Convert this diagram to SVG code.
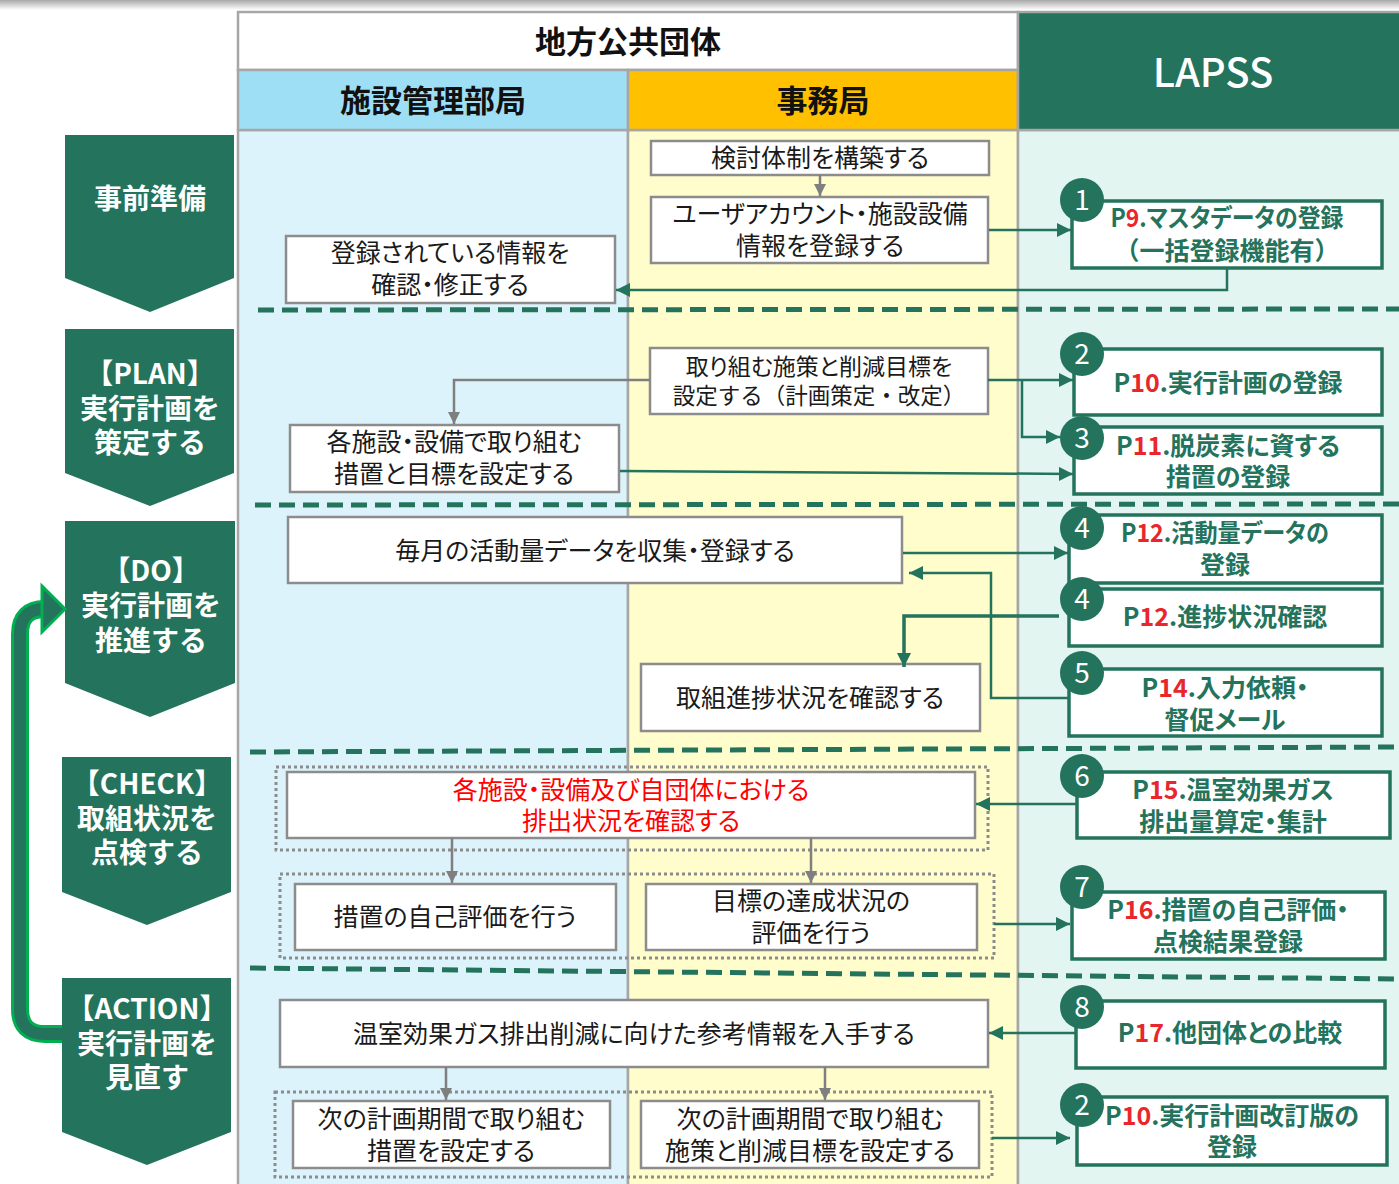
<svg xmlns="http://www.w3.org/2000/svg" width="1399" height="1184" viewBox="0 0 1399 1184">
<defs>
<linearGradient id="topband" x1="0" y1="0" x2="0" y2="1">
<stop offset="0" stop-color="#a8a8a8"/>
<stop offset="1" stop-color="#ffffff"/>
</linearGradient>
<marker id="ag" markerUnits="userSpaceOnUse" markerWidth="15" markerHeight="14" refX="14" refY="7" orient="auto">
<path d="M0,0 L14,7 L0,14 z" fill="#24735c"/>
</marker>
<marker id="ay" markerUnits="userSpaceOnUse" markerWidth="13" markerHeight="12" refX="12" refY="6" orient="auto">
<path d="M0,0 L12,6 L0,12 z" fill="#7f7f7f"/>
</marker>
<style>
.box{fill:#fff;stroke:#8c8c8c;stroke-width:2.5}
.lbox{fill:#fff;stroke:#24735c;stroke-width:3.5}
.dot{fill:none;stroke:#8c8c8c;stroke-width:3;stroke-dasharray:3 3}
.dash{stroke:#24735c;stroke-width:5;stroke-dasharray:16 8;fill:none}
.t{font-family:"Noto Sans CJK JP","Noto Sans",sans-serif;font-size:25px;fill:#1a1a1a;text-anchor:middle;font-feature-settings:"palt"}
.t23{font-size:23px}
.np{font-feature-settings:normal;font-size:22.5px}
.red{fill:#ff0000}
.lt{font-family:"Noto Sans CJK JP","Noto Sans",sans-serif;font-size:25px;font-weight:bold;fill:#24735c;text-anchor:middle;font-feature-settings:"palt"}
.ltn{font-feature-settings:normal}
.r{fill:#e8262b}
.ph{fill:#24735c}
.pt{font-family:"Noto Sans CJK JP","Noto Sans",sans-serif;font-size:28px;font-weight:bold;fill:#fff;text-anchor:middle}
.hd{font-family:"Noto Sans CJK JP","Noto Sans",sans-serif;font-size:31px;font-weight:bold;fill:#111;text-anchor:middle}
.num{fill:#24735c}
.nt{font-family:"Noto Sans CJK JP","Noto Sans",sans-serif;font-size:28px;fill:#fff;text-anchor:middle}
.cg{fill:none;stroke:#24735c;stroke-width:2.5}
.cy{fill:none;stroke:#7f7f7f;stroke-width:2.5}
</style>
</defs>
<rect x="0" y="0" width="1399" height="1184" fill="#ffffff"/>
<rect x="0" y="0" width="1399" height="10" fill="url(#topband)"/>

<!-- columns -->
<g id="columns">
<rect x="238" y="130" width="390" height="1060" fill="#dcf3fb" stroke="#a6a6a6" stroke-width="2.5"/>
<rect x="628" y="130" width="390" height="1060" fill="#fffdcc" stroke="#a6a6a6" stroke-width="2.5"/>
<rect x="1018" y="130" width="385" height="1060" fill="#e2f5f0" stroke="#a6a6a6" stroke-width="2.5"/>
</g>
<g id="headers">
<rect x="238" y="12" width="780" height="58" fill="#ffffff" stroke="#a6a6a6" stroke-width="2.5"/>
<text class="hd" x="628" y="53">地方公共団体</text>
<rect x="238" y="70" width="390" height="60" fill="#9fdff5" stroke="#a6a6a6" stroke-width="2.5"/>
<text class="hd" x="433" y="112">施設管理部局</text>
<rect x="628" y="70" width="390" height="60" fill="#ffc000" stroke="#a6a6a6" stroke-width="2.5"/>
<text class="hd" x="823" y="112">事務局</text>
<rect x="1018" y="12" width="385" height="118" fill="#24735c" stroke="#a6a6a6" stroke-width="2.5"/>
<text x="1213" y="87" font-family="'Noto Sans CJK JP','Noto Sans',sans-serif" font-size="40" font-weight="500" fill="#ffffff" text-anchor="middle">LAPSS</text>
</g>

<!-- phase separators -->
<g id="separators">
<line class="dash" x1="258" y1="310" x2="1399" y2="309"/>
<line class="dash" x1="255" y1="505" x2="1399" y2="504"/>
<line class="dash" x1="250" y1="752" x2="1399" y2="747"/>
<line class="dash" x1="250" y1="968" x2="1399" y2="979"/>
</g>

<!-- phases -->
<g id="phase-jizen">
<polygon class="ph" points="65,135 234,135 234,278 150,312 65,278"/>
<text class="pt" x="150" y="209">事前準備</text>
</g>
<g id="phase-plan">
<polygon class="ph" points="65,329 234,329 234,473 150,506 65,473"/>
<text class="pt" x="150" y="384">【PLAN】</text>
<text class="pt" x="150" y="419">実行計画を</text>
<text class="pt" x="150" y="453">策定する</text>
</g>
<g id="phase-do">
<polygon class="ph" points="65,521 235,521 235,683 150,717 65,683"/>
<text class="pt" x="151" y="581">【DO】</text>
<text class="pt" x="151" y="616">実行計画を</text>
<text class="pt" x="151" y="651">推進する</text>
</g>
<g id="phase-check">
<polygon class="ph" points="62,757 231,757 231,892 147,925 62,892"/>
<text class="pt" x="147" y="794">【CHECK】</text>
<text class="pt" x="147" y="829">取組状況を</text>
<text class="pt" x="147" y="863">点検する</text>
</g>
<g id="phase-action">
<polygon class="ph" points="62,978 231,978 231,1132 147,1165 62,1132"/>
<text class="pt" x="147" y="1019">【ACTION】</text>
<text class="pt" x="147" y="1054">実行計画を</text>
<text class="pt" x="147" y="1088">見直す</text>
</g>
<g id="pdca-loop">
<path d="M62,1034 L45,1034 Q20,1034 20,1009 L20,634 Q20,609 45,609 L48,609" fill="none" stroke="#00b050" stroke-width="18"/>
<path d="M62,1034 L45,1034 Q20,1034 20,1009 L20,634 Q20,609 45,609 L50,609" fill="none" stroke="#24735c" stroke-width="12"/>
<polygon points="42,586 65,609 42,632" fill="#24735c" stroke="#00b050" stroke-width="3" stroke-linejoin="miter"/>
</g>

<!-- dotted groupings -->
<g id="groupings">
<rect class="dot" x="276" y="767" width="712" height="83"/>
<rect class="dot" x="280" y="874" width="714" height="84"/>
<rect class="dot" x="275" y="1092" width="717" height="85"/>
</g>

<!-- local government nodes -->
<g id="n-kakunin">
<rect class="box" x="286" y="236" width="329" height="67"/>
<text class="t" x="450" y="262">登録されている情報を</text>
<text class="t" x="450" y="294">確認・修正する</text>
</g>
<g id="n-kentou">
<rect class="box" x="651" y="141" width="338" height="34"/>
<text class="t" x="820" y="167">検討体制を構築する</text>
</g>
<g id="n-user">
<rect class="box" x="651" y="197" width="337" height="66"/>
<text class="t" x="820" y="223">ユーザアカウント・施設設備</text>
<text class="t" x="820" y="255">情報を登録する</text>
</g>
<g id="n-shisaku">
<rect class="box" x="650" y="348" width="338" height="66"/>
<text class="t t23" x="819" y="375">取り組む施策と削減目標を</text>
<text class="t np" x="819" y="404">設定する（計画策定・改定）</text>
</g>
<g id="n-sochi">
<rect class="box" x="290" y="425" width="329" height="67"/>
<text class="t" x="454" y="451">各施設・設備で取り組む</text>
<text class="t" x="454" y="483">措置と目標を設定する</text>
</g>
<g id="n-maitsuki">
<rect class="box" x="288" y="517" width="614" height="66"/>
<text class="t" x="595" y="560">毎月の活動量データを収集・登録する</text>
</g>
<g id="n-shinchoku">
<rect class="box" x="641" y="664" width="339" height="67"/>
<text class="t" x="810" y="707">取組進捗状況を確認する</text>
</g>
<g id="n-haishutsu">
<rect class="box" x="287" y="772" width="688" height="66"/>
<text class="t red" x="631" y="799">各施設・設備及び自団体における</text>
<text class="t red" x="631" y="830">排出状況を確認する</text>
</g>
<g id="n-jikohyoka">
<rect class="box" x="295" y="884" width="321" height="66"/>
<text class="t" x="455" y="926">措置の自己評価を行う</text>
</g>
<g id="n-tassei">
<rect class="box" x="646" y="884" width="331" height="66"/>
<text class="t" x="811" y="910">目標の達成状況の</text>
<text class="t" x="811" y="942">評価を行う</text>
</g>
<g id="n-sankou">
<rect class="box" x="280" y="1000" width="708" height="67"/>
<text class="t" x="634" y="1043">温室効果ガス排出削減に向けた参考情報を入手する</text>
</g>
<g id="n-tsugi-sochi">
<rect class="box" x="293" y="1101" width="317" height="67"/>
<text class="t" x="451" y="1128">次の計画期間で取り組む</text>
<text class="t" x="451" y="1160">措置を設定する</text>
</g>
<g id="n-tsugi-shisaku">
<rect class="box" x="641" y="1101" width="338" height="67"/>
<text class="t" x="810" y="1128">次の計画期間で取り組む</text>
<text class="t" x="810" y="1160">施策と削減目標を設定する</text>
</g>

<!-- connectors -->
<g id="connectors">
<line class="cy" x1="820" y1="175" x2="820" y2="196" marker-end="url(#ay)"/>
<polyline class="cy" points="650,380 454,380 454,424" marker-end="url(#ay)"/>
<line class="cy" x1="452" y1="838" x2="452" y2="883" marker-end="url(#ay)"/>
<line class="cy" x1="811" y1="838" x2="811" y2="883" marker-end="url(#ay)"/>
<line class="cy" x1="446" y1="1067" x2="446" y2="1100" marker-end="url(#ay)"/>
<line class="cy" x1="825" y1="1067" x2="825" y2="1100" marker-end="url(#ay)"/>
<line class="cg" x1="989" y1="230" x2="1071" y2="230" marker-end="url(#ag)"/>
<polyline class="cg" points="1227,268 1227,290 616,290" marker-end="url(#ag)"/>
<line class="cg" x1="988" y1="380" x2="1073" y2="380" marker-end="url(#ag)"/>
<polyline class="cg" points="1022,380 1022,437 1060,437" marker-end="url(#ag)"/>
<line class="cg" x1="620" y1="471" x2="1073" y2="474" marker-end="url(#ag)"/>
<line class="cg" x1="903" y1="553" x2="1068" y2="553" marker-end="url(#ag)"/>
<polyline class="cg" style="stroke-width:3.5" points="1059,616 904,616 904,667" marker-end="url(#ag)"/>
<polyline class="cg" points="1073,698 991,698 991,573 909,573" marker-end="url(#ag)"/>
<line class="cg" x1="1077" y1="804" x2="976" y2="804" marker-end="url(#ag)"/>
<line class="cg" x1="994" y1="924" x2="1070" y2="924" marker-end="url(#ag)"/>
<line class="cg" x1="1076" y1="1033" x2="989" y2="1033" marker-end="url(#ag)"/>
<line class="cg" x1="992" y1="1138" x2="1070" y2="1138" marker-end="url(#ag)"/>
</g>

<!-- LAPSS nodes -->
<g id="l-p9">
<rect class="lbox" x="1072" y="201" width="310" height="67"/>
<text class="lt" x="1227" y="227" textLength="233" lengthAdjust="spacingAndGlyphs">P<tspan class="r">9</tspan>.マスタデータの登録</text>
<text class="lt ltn" x="1227" y="260">（一括登録機能有）</text>
<circle class="num" cx="1082" cy="200" r="22"/>
<text class="nt" x="1082" y="210">1</text>
</g>
<g id="l-p10">
<rect class="lbox" x="1074" y="349" width="308" height="66"/>
<text class="lt" x="1228" y="392">P<tspan class="r">10</tspan>.実行計画の登録</text>
<circle class="num" cx="1082" cy="354" r="22"/>
<text class="nt" x="1082" y="364">2</text>
</g>
<g id="l-p11">
<rect class="lbox" x="1074" y="427" width="308" height="67"/>
<text class="lt" x="1228" y="455">P<tspan class="r">11</tspan>.脱炭素に資する</text>
<text class="lt" x="1228" y="486">措置の登録</text>
<circle class="num" cx="1082" cy="438" r="22"/>
<text class="nt" x="1082" y="448">3</text>
</g>
<g id="l-p12a">
<rect class="lbox" x="1069" y="515" width="313" height="68"/>
<text class="lt" x="1225" y="542" textLength="208" lengthAdjust="spacingAndGlyphs">P<tspan class="r">12</tspan>.活動量データの</text>
<text class="lt" x="1225" y="574">登録</text>
<circle class="num" cx="1082" cy="528" r="22"/>
<text class="nt" x="1082" y="538">4</text>
</g>
<g id="l-p12b">
<rect class="lbox" x="1069" y="589" width="313" height="57"/>
<text class="lt" x="1225" y="626">P<tspan class="r">12</tspan>.進捗状況確認</text>
<circle class="num" cx="1082" cy="599" r="22"/>
<text class="nt" x="1082" y="609">4</text>
</g>
<g id="l-p14">
<rect class="lbox" x="1069" y="669" width="313" height="67"/>
<text class="lt" x="1225" y="697">P<tspan class="r">14</tspan>.入力依頼・</text>
<text class="lt" x="1225" y="729">督促メール</text>
<circle class="num" cx="1082" cy="673" r="22"/>
<text class="nt" x="1082" y="683">5</text>
</g>
<g id="l-p15">
<rect class="lbox" x="1077" y="772" width="313" height="66"/>
<text class="lt" x="1233" y="799">P<tspan class="r">15</tspan>.温室効果ガス</text>
<text class="lt" x="1233" y="831">排出量算定・集計</text>
<circle class="num" cx="1082" cy="776" r="22"/>
<text class="nt" x="1082" y="786">6</text>
</g>
<g id="l-p16">
<rect class="lbox" x="1072" y="892" width="313" height="67"/>
<text class="lt" x="1228" y="919">P<tspan class="r">16</tspan>.措置の自己評価・</text>
<text class="lt" x="1228" y="951">点検結果登録</text>
<circle class="num" cx="1082" cy="887" r="22"/>
<text class="nt" x="1082" y="897">7</text>
</g>
<g id="l-p17">
<rect class="lbox" x="1076" y="1001" width="309" height="67"/>
<text class="lt" x="1230" y="1042">P<tspan class="r">17</tspan>.他団体との比較</text>
<circle class="num" cx="1082" cy="1007" r="22"/>
<text class="nt" x="1082" y="1017">8</text>
</g>
<g id="l-p10b">
<rect class="lbox" x="1077" y="1097" width="310" height="68"/>
<text class="lt" x="1232" y="1125">P<tspan class="r">10</tspan>.実行計画改訂版の</text>
<text class="lt" x="1232" y="1156">登録</text>
<circle class="num" cx="1082" cy="1105" r="22"/>
<text class="nt" x="1082" y="1115">2</text>
</g>
</svg>
